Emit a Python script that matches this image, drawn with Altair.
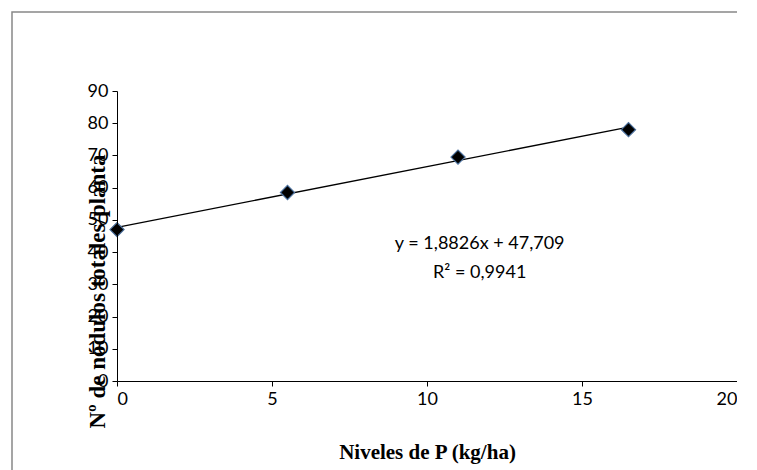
import altair as alt
import pandas as pd

niveles = [0, 5.5, 11, 16.5]
nodulos = [47, 58.5, 69.5, 78]
trend_x = [0, 16.5]
trend_y = [47.709, 78.77]

pts = pd.DataFrame({"x": niveles, "y": nodulos})
trend = pd.DataFrame({"x": trend_x, "y": trend_y})
note = pd.DataFrame({"x": [11.7, 11.7], "y": [42.5, 33.5],
                     "t": ["y = 1,8826x + 47,709", "R² = 0,9941"]})

xs = alt.Scale(domain=[0, 20])
ys = alt.Scale(domain=[0, 90])
xax = alt.Axis(values=[0, 5, 10, 15, 20], grid=False, labelFont="Lato", labelFontSize=18,
               labelColor="black", domainColor="black", tickColor="black", tickSize=5,
               labelPadding=4, labelOverlap=False, title="Niveles de P (kg/ha)",
               titleFont="Liberation Serif", titleFontSize=21, titleFontWeight="bold",
               titleColor="black", titlePadding=33)
yax = alt.Axis(values=list(range(0, 91, 10)), grid=False, labelFont="Lato", labelFontSize=18,
               labelColor="black", domainColor="black", tickColor="black", tickSize=5,
               labelPadding=4, labelOverlap=False, title="Nº de nódulos totales/planta",
               titleFont="Liberation Serif", titleFontSize=23, titleFontWeight="bold",
               titleColor="black", titleX=-8, titleY=200, titleAngle=270,
               titleAlign="center", titleBaseline="bottom", zindex=1)

X = alt.X("x:Q", scale=xs, axis=xax)
Y = alt.Y("y:Q", scale=ys, axis=yax)

border = alt.Chart(pd.DataFrame({"a": [0]})).mark_rect(
    fill="transparent", stroke="#888888", strokeWidth=1.5
).encode(x=alt.value(-105), x2=alt.value(639), y=alt.value(-79), y2=alt.value(400))

line = alt.Chart(trend).mark_line(color="black", strokeWidth=1.3).encode(x=X, y=Y)

points = alt.Chart(pts).mark_point(shape="diamond", filled=True, fill="black",
                                   stroke="#4a6f9c", strokeWidth=1.2, size=200, opacity=1).encode(x=X, y=Y)

text = alt.Chart(note).mark_text(font="Lato", fontSize=18, color="black", align="center").encode(
    x=X, y=Y, text="t:N")

chart = (line + border + points + text).properties(
    width=620, height=290, autosize=alt.AutoSizeParams(type="none"),
    padding={"left": 109, "top": 83, "right": 0, "bottom": 100}
).configure_view(stroke=None)

chart.save("out.html", embed_options={"renderer": "svg", "actions": False})
